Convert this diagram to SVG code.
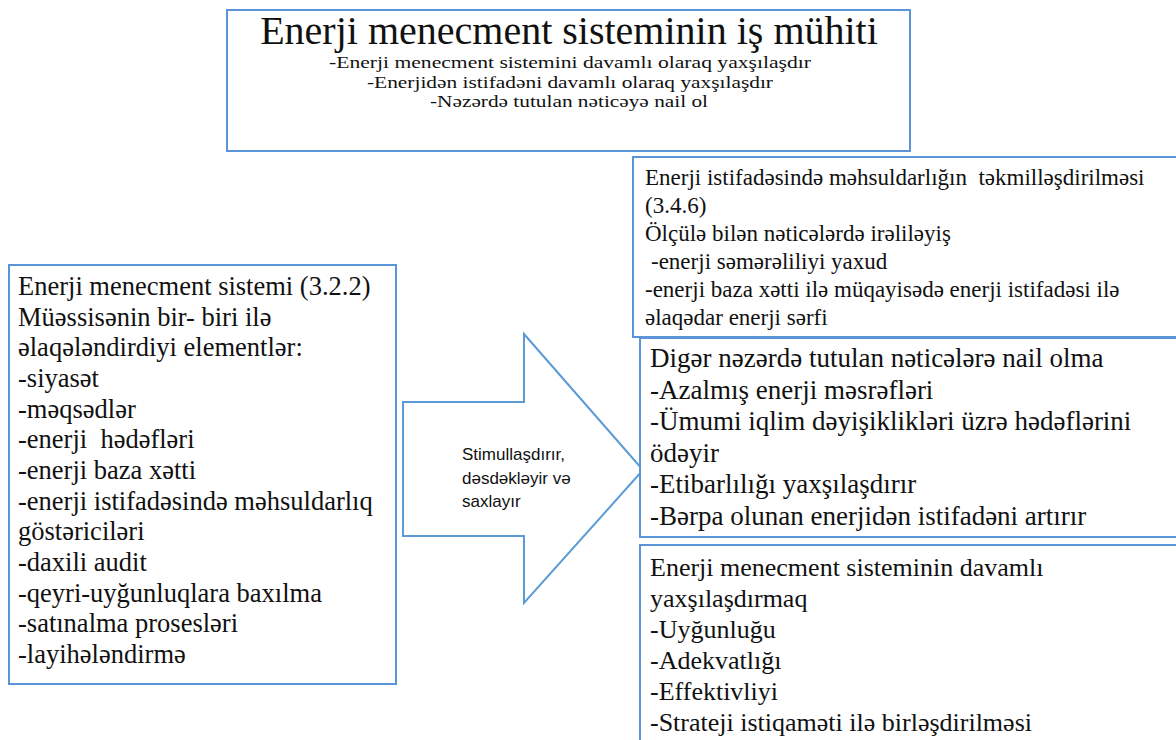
<svg xmlns="http://www.w3.org/2000/svg" width="1176" height="740" viewBox="0 0 1176 740">
<style>
.box{fill:#ffffff;stroke:#5b94d8;stroke-width:2}
.t{font-family:"Liberation Serif","Times New Roman",serif;fill:#111111}
.s{font-family:"Liberation Sans",Arial,sans-serif;fill:#111111}
</style>
<rect width="1176" height="740" fill="#ffffff"/>
<g id="top-box">
<rect class="box" x="227" y="10" width="683" height="141"/>
<text class="t" x="569" y="44" font-size="40" text-anchor="middle">Enerji menecment sisteminin iş mühiti</text>
<g class="t" font-size="17" text-anchor="middle" lengthAdjust="spacingAndGlyphs">
<text x="570" y="68" textLength="482" lengthAdjust="spacingAndGlyphs">-Enerji menecment sistemini davamlı olaraq yaxşılaşdır</text>
<text x="570" y="87.5" textLength="406" lengthAdjust="spacingAndGlyphs">-Enerjidən istifadəni davamlı olaraq yaxşılaşdır</text>
<text x="569" y="107" textLength="278" lengthAdjust="spacingAndGlyphs">-Nəzərdə tutulan nəticəyə nail ol</text>
</g>
</g>
<g id="left-box">
<rect class="box" x="9" y="265" width="387" height="419"/>
<g class="t" font-size="26.5">
<text x="18" y="295">Enerji menecment sistemi (3.2.2)</text>
<text x="18" y="325.7">Müəssisənin bir- biri ilə</text>
<text x="18" y="356.3">əlaqələndirdiyi elementlər:</text>
<text x="18" y="387">-siyasət</text>
<text x="18" y="417.7">-məqsədlər</text>
<text x="18" y="448.3" xml:space="preserve">-enerji  hədəfləri</text>
<text x="18" y="479">-enerji baza xətti</text>
<text x="18" y="509.7">-enerji istifadəsində məhsuldarlıq</text>
<text x="18" y="540.3">göstəriciləri</text>
<text x="18" y="571">-daxili audit</text>
<text x="18" y="601.7">-qeyri-uyğunluqlara baxılma</text>
<text x="18" y="632.3">-satınalma prosesləri</text>
<text x="18" y="663">-layihələndirmə</text>
</g>
</g>
<g id="connectors">
<g id="arrow">
<polygon points="403,402 524,402 524,334 643,470 524,603 524,536 403,536" fill="#ffffff" stroke="#5b9bd5" stroke-width="2" stroke-linejoin="miter"/>
<g class="s" font-size="17">
<text x="462" y="460">Stimullaşdırır,</text>
<text x="462" y="483.5">dəsdəkləyir və</text>
<text x="462" y="507">saxlayır</text>
</g>
</g>
</g>
<g id="right-box-1">
<rect class="box" x="633" y="157" width="560" height="180"/>
<g class="t" font-size="23">
<text x="645" y="185" xml:space="preserve">Enerji istifadəsində məhsuldarlığın  təkmilləşdirilməsi</text>
<text x="645" y="213">(3.4.6)</text>
<text x="645" y="241">Ölçülə bilən nəticələrdə irəliləyiş</text>
<text x="651" y="269">-enerji səmərəliliyi yaxud</text>
<text x="645" y="297">-enerji baza xətti ilə müqayisədə enerji istifadəsi ilə</text>
<text x="645" y="325">əlaqədar enerji sərfi</text>
</g>
</g>
<g id="right-box-2">
<rect class="box" x="640" y="338" width="560" height="199"/>
<g class="t" font-size="27">
<text x="650" y="367">Digər nəzərdə tutulan nəticələrə nail olma</text>
<text x="650" y="398.5">-Azalmış enerji məsrəfləri</text>
<text x="650" y="430">-Ümumi iqlim dəyişiklikləri üzrə hədəflərini</text>
<text x="650" y="461.5">ödəyir</text>
<text x="650" y="493">-Etibarlılığı yaxşılaşdırır</text>
<text x="650" y="524.5">-Bərpa olunan enerjidən istifadəni artırır</text>
</g>
</g>
<g id="right-box-3">
<rect class="box" x="640" y="545" width="560" height="220"/>
<g class="t" font-size="26">
<text x="650" y="576">Enerji menecment sisteminin davamlı</text>
<text x="650" y="607">yaxşılaşdırmaq</text>
<text x="650" y="638">-Uyğunluğu</text>
<text x="650" y="669">-Adekvatlığı</text>
<text x="650" y="700">-Effektivliyi</text>
<text x="650" y="731">-Strateji istiqaməti ilə birləşdirilməsi</text>
</g>
</g>
</svg>
